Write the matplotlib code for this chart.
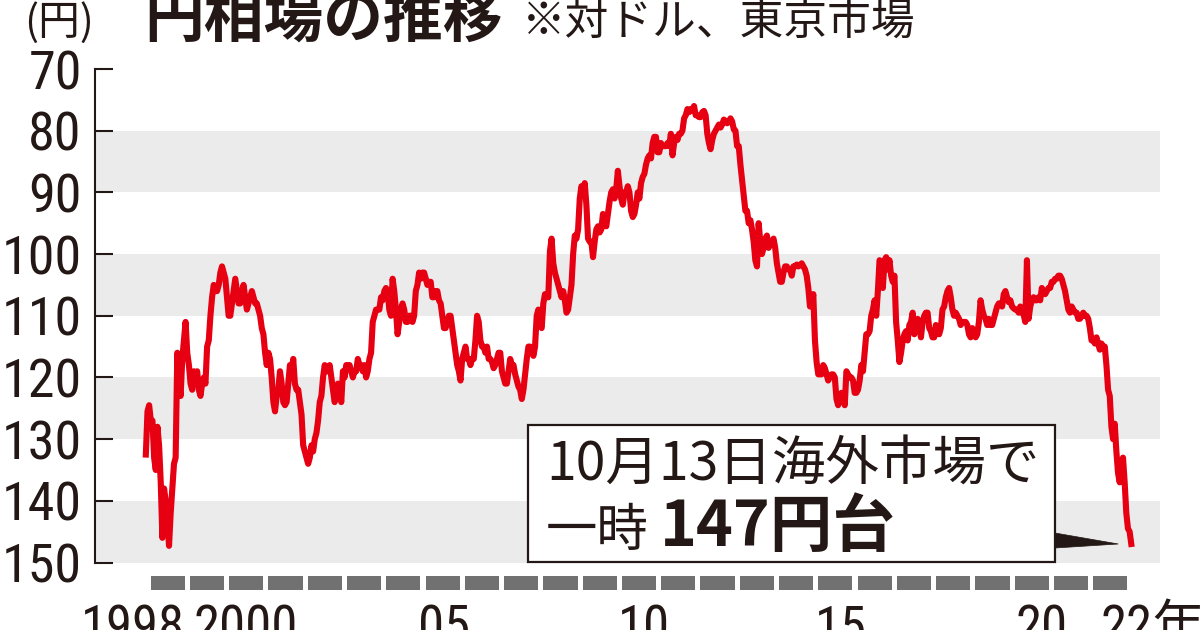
import matplotlib
matplotlib.use("Agg")
import matplotlib.pyplot as plt
from matplotlib import font_manager as fm
from matplotlib.patches import Rectangle, Polygon

# ---------------- data (USD/JPY, yen per dollar, two readings per month) ----------------
y1998 = [132.5, 125.5, 124.5, 127, 127, 133, 135, 128, 131, 137, 146, 138,
         140, 143, 147.3, 142, 138, 134, 133, 116, 121, 123, 117, 114]
y1999 = [111, 116, 118, 121, 122, 119, 120, 119, 122, 123, 121, 120,
         121, 115, 114, 110, 107, 105, 106, 106, 105, 103, 102, 103]
y2000 = [104, 107, 110, 110, 108, 106, 104, 106, 108, 108, 106, 105,
         107, 109, 108, 107, 106, 107, 108, 108, 109, 110, 112, 113]
y2001 = [116, 118, 116, 117, 120, 124, 125.5, 123, 122, 119, 121, 124,
         124.5, 124, 121, 118, 119, 117, 121, 122, 122, 124, 126, 131]
y2002 = [132, 133, 134, 133, 131, 132, 130, 129, 127, 124, 123, 120,
         118, 119, 119, 118, 120, 122, 124, 123, 121, 122, 124, 119]
y2003 = [120, 118, 118, 118, 119, 120, 119, 119, 117, 118, 118, 119,
         118, 120, 119, 117, 116, 111, 110, 109, 109, 109, 107, 107.5]
y2004 = [106, 105.5, 106, 109, 110, 104, 106, 109, 113, 111, 109, 108,
         109, 111, 111, 110, 110, 111, 110, 106, 105, 103, 104, 103]
y2005 = [103, 104, 105, 104.5, 104.5, 107, 107, 106, 106, 107.5, 108, 110,
         112, 112, 111, 110, 110, 112, 114, 116, 118, 119, 120.5, 117]
y2006 = [116, 115, 117, 117, 118, 117, 117, 114, 110, 111, 114, 115,
         115, 116, 115, 117, 117, 117.5, 118.5, 118, 117, 116, 116, 119]
y2007 = [120, 121, 121, 119, 117, 118, 118, 119.5, 120.5, 121.5, 122, 123.5,
         122, 119.5, 117, 115, 115, 115.5, 116.5, 115, 110, 109, 111.5, 112]
y2008 = [108, 106.5, 107, 107, 99.5, 97.5, 101.5, 103, 104, 105, 106, 107,
         106, 107.5, 109.5, 109, 107, 105, 100, 97, 97.5, 96, 91, 89]
y2009 = [90, 88.5, 92, 97.5, 98, 98, 100.5, 98, 96, 95.5, 96.5, 96,
         93.5, 94.5, 95.5, 93.5, 91.5, 90, 89.5, 91, 89.5, 86.5, 89, 91]
y2010 = [92, 90, 90, 89, 90, 93, 94, 93.5, 92, 90, 91, 88.5,
         87.5, 87, 85.5, 84.5, 84, 84.5, 82, 81, 81, 83.5, 83.5, 82]
y2011 = [82.5, 82.5, 82.5, 82, 82.5, 80.5, 84, 82, 81, 81.5, 80.5, 80.5,
         80, 78, 77.5, 76.5, 77, 76.5, 76.8, 76, 77.5, 77.5, 77.8, 77.8]
y2012 = [77, 76.8, 77.5, 80.5, 82, 83, 81.5, 80.5, 80, 79.5, 79, 79.5,
         79, 78.2, 78.5, 78.8, 78.5, 78, 78.5, 79.8, 80, 82.5, 82.5, 85.5]
y2013 = [88, 90.5, 93, 93, 95, 94.5, 96, 98, 101, 102, 95, 98,
         100, 99, 97.5, 97, 99, 98.5, 98, 97.5, 99, 101.5, 103, 104.5]
y2014 = [104.5, 103, 102, 102, 102.5, 102.5, 103.5, 102, 102, 101.7, 102, 101.8,
         101.5, 102, 102.5, 103.5, 105.5, 108.5, 108.5, 106.5, 114, 117.5, 119.5, 119.5]
y2015 = [119.5, 118, 118.5, 119.5, 120.5, 120, 119.5, 119.5, 120, 123.5, 124.5, 123,
         122.5, 123.5, 124.5, 119, 119.5, 120, 120, 120.5, 122.5, 122.5, 122, 120.5]
y2016 = [118, 119, 116, 113, 113, 112.5, 110, 109, 107.5, 110, 106, 101,
         101.5, 105.5, 101, 100.5, 102.5, 101, 103.5, 104.5, 103.5, 111, 114, 117.5]
y2017 = [116, 114, 113, 112.5, 114, 111.5, 111, 109.5, 113, 111.5, 110.5, 111.5,
         113.5, 111, 110, 109.5, 109.5, 112, 112.5, 113.5, 113.5, 111.5, 112.5, 113]
y2018 = [112, 109, 108.5, 107, 106, 105.5, 107, 109, 110, 109.5, 110, 110.5,
         111.5, 111, 111, 111, 111.5, 113, 113.5, 112, 113, 113.5, 113, 111]
y2019 = [107.5, 109, 110, 110.5, 111.5, 110.5, 111.5, 111.5, 110.5, 109.5, 108.5, 108,
         108, 108.5, 106.5, 106, 107, 107.8, 107.5, 108.5, 108.8, 109, 109, 109.5]
y2020 = [108.5, 109.5, 109.8, 111, 101, 110.5, 108.5, 107.5, 107, 107.5, 107.5, 107,
         107.5, 105.5, 106, 106.5, 106, 105.5, 105.5, 104.5, 104.5, 104, 104, 103.5]
y2021 = [103.5, 104, 105, 106, 107.5, 109, 109.5, 108.5, 109, 109.5, 109.5, 110.5,
         110.5, 110, 109.5, 110, 110, 110.5, 112, 114, 113.8, 114.5, 113.5, 114.5]
y2022 = [115.5, 114.5, 115, 115, 118, 122, 123, 128, 130, 127.5, 132, 135.5,
         137, 134, 133, 137, 142, 144.5, 145, 147]

yearly_series = [y1998, y1999, y2000, y2001, y2002, y2003, y2004, y2005, y2006,
                 y2007, y2008, y2009, y2010, y2011, y2012, y2013, y2014, y2015,
                 y2016, y2017, y2018, y2019, y2020, y2021, y2022]
first_year = 1998

y_ticks = [70, 80, 90, 100, 110, 120, 130, 140, 150]
bands = [(80, 90), (100, 110), (120, 130), (140, 150)]
dash_years = list(range(1998, 2023))
x_label_years = [1998, 2000, 2005, 2010, 2015, 2020, 2022]
x_labels = ["1998", "2000", "05", "10", "15", "20", "22年"]

title = "円相場の推移"
subtitle = "※対ドル、東京市場"
unit = "(円)"
note_line1 = "10月13日海外市場で"
note_line2a = "一時"
note_line2b = "147円台"

# ---------------- build time axis ----------------
t, v = [], []
for i, vals in enumerate(yearly_series):
    for k, val in enumerate(vals):
        month, half = divmod(k, 2)
        t.append(first_year + i + (month + 0.25 + 0.5 * half) / 12.0)
        v.append(val)


# ---------------- fonts ----------------
def pick_narrow_font():
    cond = {"condensed", "semi-condensed", "extra-condensed", "ultra-condensed"}
    prefs = ["Liberation Sans Narrow", "Roboto Condensed", "Open Sans Condensed",
             "DejaVu Sans", "Noto Sans", "Open Sans", "Roboto", "Lato", "Inter",
             "Liberation Sans"]
    entries = fm.fontManager.ttflist
    for fam in prefs:
        for e in entries:
            if e.name != fam or e.style != "normal":
                continue
            if str(e.stretch) in cond or "Narrow" in e.name or "Condensed" in e.name:
                return e.name, str(e.stretch), True
    return "Liberation Sans", "normal", False


NUM_FAMILY, NUM_STRETCH, NARROW = pick_narrow_font()
NUM = [NUM_FAMILY, "Noto Sans CJK JP", "DejaVu Sans"]
NUM_SIZE = 39 if NARROW else 33
JP = ["Noto Sans CJK JP", "DejaVu Sans"]
INK = "#231815"
RED = "#e60012"
BAND = "#ebebeb"
DASH = "#717171"

W, H = 1200, 630
fig = plt.figure(figsize=(W / 100, H / 100), dpi=100, facecolor="white")


def fx(px):
    return px / W


def fy(py):
    return 1 - py / H


# main axes
ax = fig.add_axes([fx(95), fy(562.5), fx(1160 - 95), (562.5 - 69) / H])
ax.set_xlim(1996.742, 2023.535)
ax.set_ylim(150, 70)
for lo, hi in bands:
    ax.axhspan(lo, hi, color=BAND, lw=0, zorder=0)
ax.plot(t, v, color=RED, lw=4.4, zorder=3, solid_joinstyle="round")

for s in ["top", "right", "bottom"]:
    ax.spines[s].set_visible(False)
ax.spines["left"].set_linewidth(1.5)
ax.spines["left"].set_color(INK)
ax.set_xticks([])
ax.set_yticks(y_ticks, labels=[str(y) for y in y_ticks], fontfamily=NUM,
              fontstretch=NUM_STRETCH, fontsize=NUM_SIZE, color=INK)
ax.tick_params(axis="y", direction="in", length=13, width=1.5, pad=9.5,
               colors=INK)
ax.set_facecolor("white")

# year dash bar
ax2 = fig.add_axes([fx(148), fy(590), fx(1130 - 148), 14 / H])
ax2.set_xlim(1998, 2023)
ax2.set_ylim(0, 1)
ax2.axis("off")
ax2.bar([y + 0.5 for y in dash_years], 1, width=0.87, color=DASH, lw=0)

label_shift = [-0.38, 0.49, 0.54, 0.63, 0.64, 0.76, 0.26]
label_ha = ["center"] * 6 + ["left"]
for yr, lbl, sh, ha in zip(x_label_years, x_labels, label_shift, label_ha):
    ax2.annotate(lbl, xy=(yr + sh, 0), xycoords=("data", "axes fraction"),
                 xytext=(0, -9.5), textcoords="offset points",
                 ha=ha, va="top", fontsize=NUM_SIZE - 1, fontfamily=NUM,
                 fontstretch=NUM_STRETCH, color=INK, annotation_clip=False)

# titles
fig.text(fx(24), fy(35), unit, fontsize=30, fontfamily=JP, color=INK,
         ha="left", va="baseline")
fig.text(fx(144), fy(37), title, fontsize=43, fontfamily=JP,
         fontweight="bold", color=INK, ha="left", va="baseline")
fig.text(fx(522), fy(35), subtitle, fontsize=31.5, fontfamily=JP, color=INK,
         ha="left", va="baseline")

# annotation box
bx0, by0, bx1, by1 = 528, 425, 1055, 562
box = Rectangle((fx(bx0), fy(by1)), fx(bx1 - bx0), (by1 - by0) / H,
                transform=fig.transFigure, facecolor="white",
                edgecolor=INK, lw=1.6, zorder=5)
fig.add_artist(box)
fig.text(fx(546), fy(481), note_line1, fontsize=38.5, fontfamily=JP,
         color=INK, ha="left", va="baseline", zorder=6)
fig.text(fx(546), fy(546), note_line2a, fontsize=37, fontfamily=JP,
         color=INK, ha="left", va="baseline", zorder=6)
fig.text(fx(660), fy(546), note_line2b, fontsize=45, fontfamily=JP,
         fontweight="bold", color=INK, ha="left", va="baseline", zorder=6)

# pointer wedge from box to the last point
tip = ax.transData.transform((t[-1], v[-1]))
tip = (tip[0] - 13, tip[1])
pts_disp = [(bx1, H - 533), (bx1, H - 548), tip]
pts_fig = fig.transFigure.inverted().transform(pts_disp)
wedge = Polygon(pts_fig, closed=True, transform=fig.transFigure,
                facecolor=INK, edgecolor=INK, lw=0.5, zorder=5)
fig.add_artist(wedge)

fig.savefig("out.png", dpi=100, facecolor="white")
